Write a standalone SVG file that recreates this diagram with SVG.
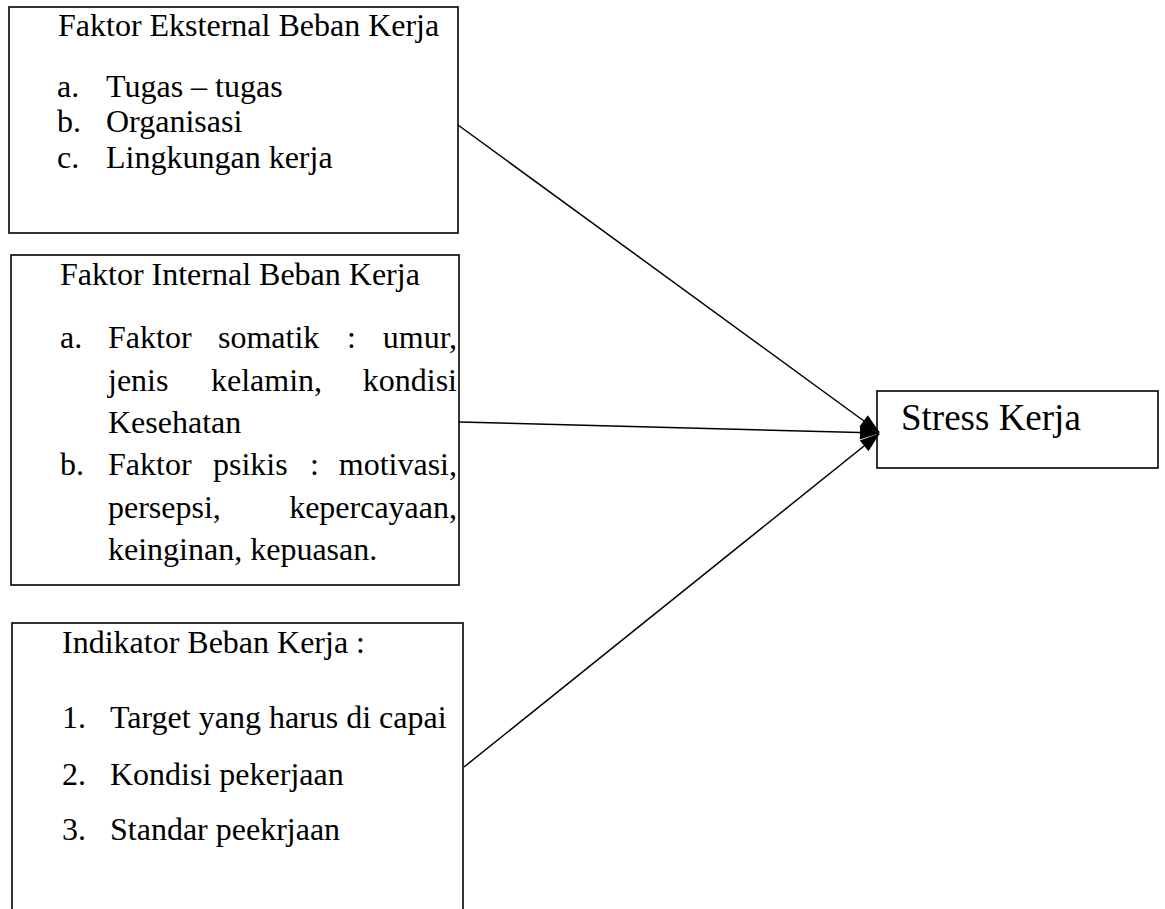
<svg xmlns="http://www.w3.org/2000/svg" width="1165" height="909" viewBox="0 0 1165 909">
<style>
.box{fill:#fff;stroke:#000;stroke-width:1.6}
.t{font-family:"Liberation Serif","Times New Roman",serif;font-size:32px;fill:#000}
.big{font-size:37px}
.conn{stroke:#000;stroke-width:1.5;fill:none}
</style>
<defs>
<marker id="ah" viewBox="0 0 20 14" refX="19" refY="7" markerWidth="20" markerHeight="14" markerUnits="userSpaceOnUse" orient="auto" overflow="visible">
<path d="M0,0 L20,7 L0,14 z" fill="#000"/>
</marker>
</defs>
<rect width="1165" height="909" fill="#fff"/>
<g id="eksternal">
<rect class="box" x="9" y="7" width="449" height="226"/>
<text class="t" x="58" y="36">Faktor Eksternal Beban Kerja</text>
<text class="t" x="57" y="97">a.</text><text class="t" x="106" y="97">Tugas – tugas</text>
<text class="t" x="57" y="132">b.</text><text class="t" x="106" y="132">Organisasi</text>
<text class="t" x="57" y="168">c.</text><text class="t" x="106" y="168">Lingkungan kerja</text>
</g>
<g id="internal">
<rect class="box" x="11" y="255" width="448" height="330"/>
<text class="t" x="60" y="285">Faktor Internal Beban Kerja</text>
<text class="t" x="60" y="348">a.</text>
<text class="t" x="108" y="348">Faktor</text><text class="t" x="218" y="348">somatik</text><text class="t" x="347" y="348">:</text><text class="t" x="457" y="348" text-anchor="end">umur,</text>
<text class="t" x="108" y="391">jenis</text><text class="t" x="211" y="391">kelamin,</text><text class="t" x="457" y="391" text-anchor="end">kondisi</text>
<text class="t" x="108" y="433">Kesehatan</text>
<text class="t" x="60" y="475">b.</text>
<text class="t" x="108" y="475">Faktor</text><text class="t" x="213" y="475">psikis</text><text class="t" x="310" y="475">:</text><text class="t" x="457" y="475" text-anchor="end">motivasi,</text>
<text class="t" x="108" y="518">persepsi,</text><text class="t" x="457" y="518" text-anchor="end">kepercayaan,</text>
<text class="t" x="108" y="560">keinginan, kepuasan.</text>
</g>
<g id="indikator">
<rect class="box" x="12" y="623" width="451" height="300"/>
<text class="t" x="62" y="653">Indikator Beban Kerja :</text>
<text class="t" x="62" y="728">1.</text><text class="t" x="110" y="728">Target yang harus di capai</text>
<text class="t" x="62" y="785">2.</text><text class="t" x="110" y="785">Kondisi pekerjaan</text>
<text class="t" x="62" y="840">3.</text><text class="t" x="110" y="840">Standar peekrjaan</text>
</g>
<g id="stress">
<rect class="box" x="877" y="391" width="281" height="77"/>
<text class="t big" x="901" y="430">Stress Kerja</text>
</g>
<g id="connectors">
<line class="conn" x1="458" y1="125" x2="879" y2="432" marker-end="url(#ah)"/>
<line class="conn" x1="459" y1="422" x2="879" y2="433" marker-end="url(#ah)"/>
<line class="conn" x1="464" y1="767" x2="879" y2="434" marker-end="url(#ah)"/>
</g>
</svg>
